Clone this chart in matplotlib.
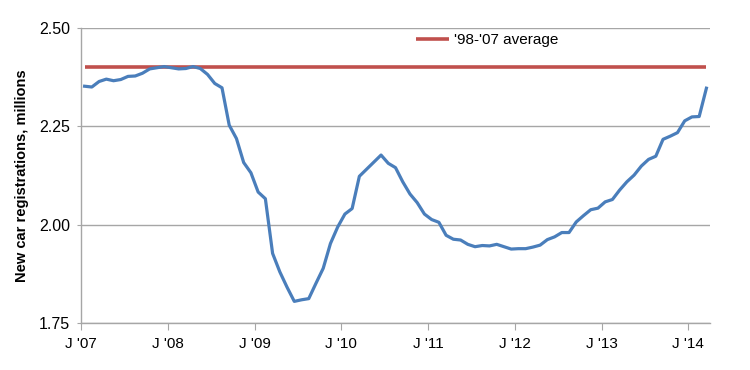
import matplotlib
matplotlib.use("Agg")
import matplotlib.pyplot as plt
import numpy as np

plt.rcParams['font.family'] = ['Liberation Sans', 'DejaVu Sans']

# Monthly new car registrations (millions), Jan 2007 - Mar 2014
registrations = [
    # 2007
    2.352, 2.350, 2.364, 2.370, 2.366, 2.369, 2.377, 2.378, 2.385, 2.396, 2.399, 2.402,
    # 2008
    2.399, 2.396, 2.397, 2.402, 2.397, 2.382, 2.359, 2.348, 2.253, 2.219, 2.158, 2.132,
    # 2009
    2.083, 2.066, 1.927, 1.880, 1.841, 1.805, 1.809, 1.812, 1.851, 1.889, 1.952, 1.994,
    # 2010
    2.027, 2.041, 2.123, 2.141, 2.159, 2.177, 2.156, 2.145, 2.109, 2.078, 2.056, 2.027,
    # 2011
    2.013, 2.006, 1.973, 1.963, 1.961, 1.950, 1.944, 1.947, 1.946, 1.950, 1.944, 1.938,
    # 2012
    1.939, 1.939, 1.943, 1.948, 1.962, 1.969, 1.980, 1.980, 2.007, 2.023, 2.038, 2.042,
    # 2013
    2.058, 2.064, 2.088, 2.109, 2.126, 2.149, 2.166, 2.174, 2.217, 2.225, 2.234, 2.264,
    # 2014
    2.274, 2.275, 2.347,
]
average_98_07 = 2.40
avg_label = "'98-'07 average"
tick_labels = ["J '07", "J '08", "J '09", "J '10", "J '11", "J '12", "J '13", "J '14"]
y_ticks = [1.75, 2.00, 2.25, 2.50]
y_label = "New car registrations, millions"

months = np.arange(len(registrations)) + 0.5

fig = plt.figure(figsize=(7.5, 3.7), dpi=100)
ax = fig.add_axes([0.108, 0.127, 0.8387, 0.7973])

ax.plot(months, [average_98_07] * len(months), color='#C0504D', lw=2.6,
        label=avg_label, solid_capstyle='butt')
ax.plot(months, registrations, color='#4A7EBB', lw=2.3, solid_joinstyle='round')

ax.set_ylim(1.75, 2.50)
ax.set_xlim(0, 87.0)
ax.set_yticks(y_ticks)
ax.set_yticklabels([f"{v:.2f}" for v in y_ticks], fontsize=11.5)
ax.set_xticks(np.arange(len(tick_labels)) * 12)
ax.set_xticklabels(tick_labels, fontsize=11)

ax.yaxis.grid(True, color='#A6A6A6', lw=1.0)
ax.set_axisbelow(True)
for s in ['top', 'right']:
    ax.spines[s].set_visible(False)
for s in ['left', 'bottom']:
    ax.spines[s].set_color('#A6A6A6')
    ax.spines[s].set_linewidth(1.0)
ax.tick_params(axis='y', length=3, color='#A6A6A6', pad=5)
ax.tick_params(axis='x', length=5, color='#A6A6A6', pad=5)

ax.set_ylabel(y_label, fontsize=10.5, fontweight='bold', labelpad=7)

ax.legend(loc='upper left', bbox_to_anchor=(0.51, 1.03), frameon=False,
          fontsize=11, handlelength=2.2, handletextpad=0.3)

fig.savefig("out.png", dpi=100)
